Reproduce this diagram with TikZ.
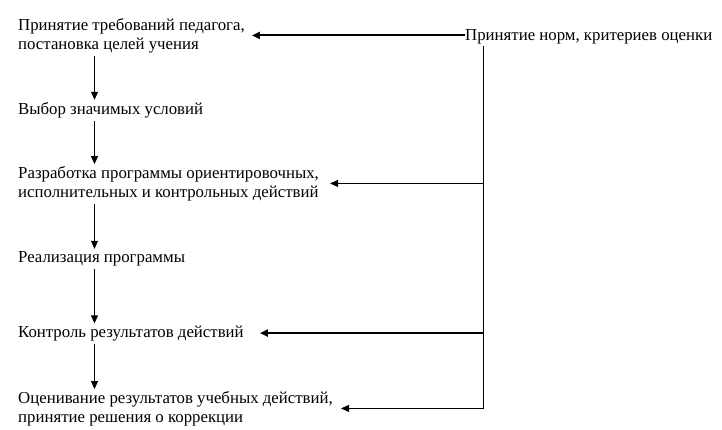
\documentclass[tikz,border=0pt]{standalone}
\usepackage{fontspec}
\setmainfont{Liberation Serif}
\usetikzlibrary{arrows.meta}
\begin{document}
\begin{tikzpicture}[x=1pt,y=-1pt,
  lbl/.style={anchor=base west, inner sep=0pt, align=left, font=\fontsize{16.8}{18.7}\selectfont},
  tharrow/.style={-{Triangle[length=8pt,width=7pt]}, line width=1pt},
  tkarrow/.style={-{Triangle[length=8pt,width=7pt]}, line width=2pt},
  downarrow/.style={tharrow, shorten <=3pt, shorten >=2pt},
  feed/.style={line width=1pt}]
\useasboundingbox (0,0) rectangle (722,429);
\node[lbl] (t1) at (18,49) {Принятие требований педагога,\\постановка целей учения};
\node[lbl] (t2) at (18,114) {Выбор значимых условий};
\node[lbl] (t3) at (18,197) {Разработка программы ориентировочных,\\исполнительных и контрольных действий};
\node[lbl] (t4) at (18,262) {Реализация программы};
\node[lbl] (t5) at (18,337) {Контроль результатов действий};
\node[lbl] (t6) at (18,422) {Оценивание результатов учебных действий,\\принятие решения о коррекции};
\node[lbl] (r) at (465,40) {Принятие норм, критериев оценки};
\coordinate (ax) at (94.5,0);
\coordinate (vx) at (483.5,0);
\draw[downarrow] (ax |- t1.south) -- (ax |- t2.north);
\draw[downarrow] (ax |- t2.south) -- (ax |- t3.north);
\draw[downarrow] (ax |- t3.south) -- (ax |- t4.north);
\draw[downarrow] (ax |- t4.south) -- (ax |- t5.north);
\draw[downarrow] (ax |- t5.south) -- (ax |- t6.north);
\draw[feed, shorten <=2pt] (vx |- r.south) -- (vx |- t6.east);
\draw[tkarrow] (r.west |- t1.east) -- ([xshift=7pt]t1.east);
\draw[tharrow] (vx |- t3.east) -- ([xshift=11pt]t3.east);
\draw[tkarrow] (vx |- t5.east) -- ([xshift=16pt]t5.east);
\draw[tharrow] (vx |- t6.east) -- ([xshift=8pt]t6.east);
\end{tikzpicture}
\end{document}
